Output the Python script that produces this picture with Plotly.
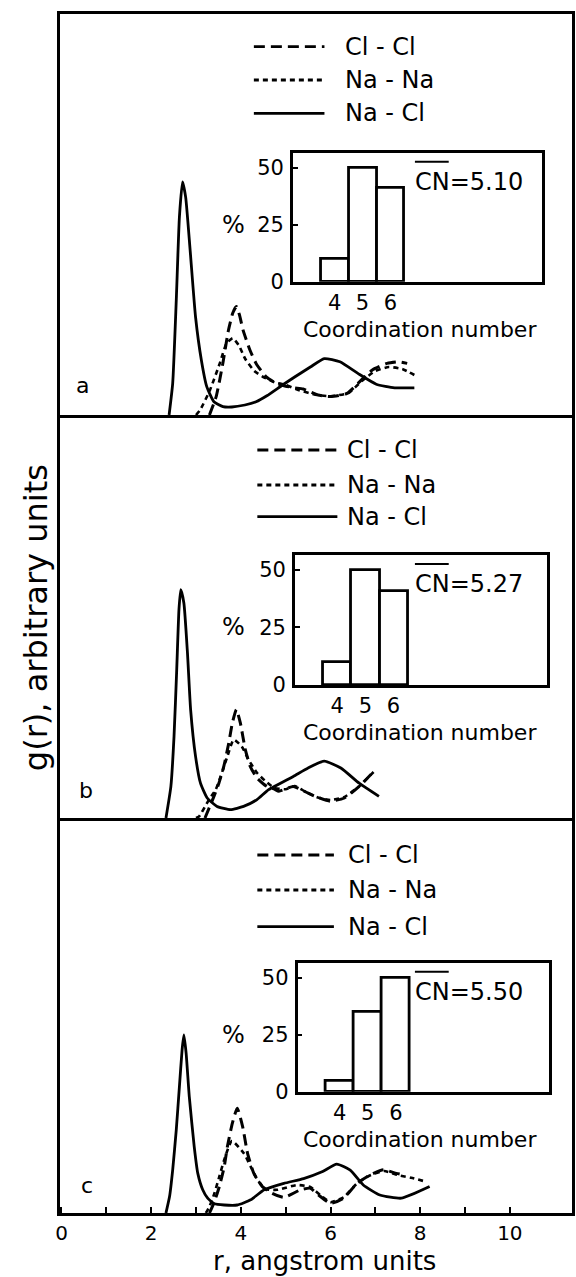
import plotly.graph_objects as go

# ---------------- data ----------------
# panel a
r_a_nacl = [2.40, 2.48, 2.56, 2.63, 2.70, 2.77, 2.87, 2.99, 3.12, 3.24, 3.40, 3.60, 3.80, 4.09, 4.34, 4.58, 4.93, 5.20, 5.55, 5.86, 6.21, 6.61, 7.02, 7.43, 7.87]
g_a_nacl = [0.00, 0.79, 2.87, 4.95, 5.83, 5.44, 4.11, 2.45, 1.37, 0.71, 0.33, 0.21, 0.20, 0.25, 0.33, 0.48, 0.75, 0.95, 1.20, 1.41, 1.33, 1.04, 0.77, 0.68, 0.68]
r_a_clcl = [3.30, 3.45, 3.60, 3.72, 3.82, 3.90, 3.97, 4.05, 4.20, 4.34, 4.56, 4.79, 5.00, 5.20, 5.39, 5.72, 6.00, 6.37, 6.69, 6.94, 7.26, 7.51, 7.71]
g_a_clcl = [0.00, 0.46, 1.30, 2.10, 2.55, 2.71, 2.50, 2.12, 1.63, 1.29, 0.96, 0.79, 0.72, 0.68, 0.65, 0.50, 0.46, 0.54, 0.88, 1.13, 1.29, 1.33, 1.29]
r_a_nana = [3.00, 3.09, 3.31, 3.53, 3.68, 3.82, 3.95, 4.10, 4.30, 4.50, 4.75, 5.00, 5.30, 5.70, 6.00, 6.40, 6.70, 7.00, 7.30, 7.60, 7.87]
g_a_nana = [0.00, 0.12, 0.62, 1.29, 1.79, 1.92, 1.75, 1.40, 1.10, 0.95, 0.82, 0.75, 0.62, 0.50, 0.47, 0.55, 0.85, 1.10, 1.20, 1.15, 1.00]

# panel b
r_b_nacl = [2.33, 2.44, 2.51, 2.57, 2.62, 2.66, 2.73, 2.81, 2.88, 2.99, 3.10, 3.25, 3.47, 3.77, 4.06, 4.36, 4.62, 5.17, 5.50, 5.86, 6.23, 6.64, 7.08]
g_b_nacl = [0.00, 0.79, 2.04, 3.71, 5.21, 5.71, 5.37, 4.12, 2.71, 1.54, 0.87, 0.50, 0.29, 0.21, 0.29, 0.46, 0.71, 1.04, 1.25, 1.42, 1.25, 0.87, 0.54]
r_b_clcl = [3.20, 3.40, 3.51, 3.62, 3.73, 3.81, 3.90, 3.99, 4.10, 4.21, 4.36, 4.58, 4.75, 4.85, 5.17, 5.45, 5.66, 5.99, 6.31, 6.64, 6.96]
g_b_clcl = [0.00, 0.54, 0.87, 1.29, 1.87, 2.37, 2.71, 2.37, 1.71, 1.29, 1.00, 0.79, 0.72, 0.67, 0.79, 0.65, 0.54, 0.42, 0.50, 0.79, 1.16]
r_b_nana = [3.00, 3.07, 3.29, 3.44, 3.55, 3.70, 3.84, 4.02, 4.17, 4.36, 4.55, 4.75, 5.00, 5.20, 5.45, 5.70, 6.00, 6.30, 6.65, 6.96]
g_b_nana = [0.00, 0.04, 0.46, 0.71, 1.04, 1.54, 1.96, 1.79, 1.46, 1.13, 0.92, 0.75, 0.72, 0.80, 0.65, 0.52, 0.45, 0.52, 0.80, 1.15]

# panel c
r_c_nacl = [2.33, 2.41, 2.48, 2.56, 2.63, 2.69, 2.73, 2.78, 2.85, 2.96, 3.04, 3.15, 3.26, 3.41, 3.63, 3.92, 4.22, 4.52, 4.96, 5.40, 5.81, 6.14, 6.44, 6.73, 7.10, 7.58, 8.21]
g_c_nacl = [0.00, 0.41, 1.08, 2.08, 3.16, 4.08, 4.45, 3.99, 2.91, 1.66, 0.99, 0.58, 0.37, 0.23, 0.20, 0.20, 0.33, 0.58, 0.74, 0.86, 1.03, 1.22, 1.07, 0.70, 0.45, 0.37, 0.66]
r_c_clcl = [3.30, 3.41, 3.52, 3.63, 3.70, 3.81, 3.92, 4.04, 4.15, 4.29, 4.48, 4.70, 4.96, 5.33, 5.55, 5.73, 6.00, 6.29, 6.59, 6.88, 7.18, 7.47, 7.65]
g_c_clcl = [0.00, 0.28, 0.66, 1.16, 1.66, 2.24, 2.62, 2.16, 1.49, 0.99, 0.66, 0.49, 0.39, 0.58, 0.62, 0.45, 0.24, 0.37, 0.74, 0.95, 1.08, 0.99, 0.95]
r_c_nana = [3.22, 3.30, 3.41, 3.52, 3.63, 3.80, 4.07, 4.22, 4.37, 4.55, 4.81, 5.25, 5.55, 5.80, 6.00, 6.30, 6.60, 6.90, 7.20, 7.50, 7.80, 8.14]
g_c_nana = [0.00, 0.16, 0.49, 0.91, 1.33, 1.80, 1.49, 1.16, 0.83, 0.60, 0.58, 0.70, 0.65, 0.42, 0.27, 0.40, 0.75, 0.95, 1.05, 0.95, 0.88, 0.78]

# insets: coordination number histograms
cn_numbers = [4, 5, 6]
pct_a = [10, 50, 41]
pct_b = [10, 50, 41]
pct_c = [5, 35, 50]
cn_mean = ["5.10", "5.27", "5.50"]
panel_letters = ["a", "b", "c"]
series_names = ["Cl - Cl", "Na - Na", "Na - Cl"]
x_ticks = list(range(0, 11))
x_ticklabels = [str(v) if v % 2 == 0 else "" for v in x_ticks]
inset_yticks = [0, 25, 50]

# ---------------- layout geometry ----------------
W, H = 576, 1277
ML, MR, MT, MB = 60, 1, 14, 64
PW = W - ML - MR
PH = H - MT - MB
BOT = H - MB
PXU = 45.1      # px per angstrom
X0 = 61.5       # px of r = 0
PYU = 40.0      # px per g unit

def py2paper(py):
    return (BOT - py) / PH

def px2paper(px):
    return (px - ML) / PW

def px2r(px):
    return (px - X0) / PXU

panel_top = [14, 415, 818]
panel_bot = [415, 818, BOT]
inset_box = [(294.3, 545.0, 152.7, 281.7), (296.3, 550.0, 555.0, 685.0), (298.9, 551.9, 962.7, 1091.7)]
legend_px = [((255, 326, 345), (46.7, 80.0, 113.3)),
             ((258.5, 339, 346.5), (450.0, 485.0, 516.7)),
             ((258.5, 335.5, 348), (855.0, 890.0, 926.7))]
label_px = [(82.5, 385), (86, 790), (87, 1185)]

FONT = "DejaVu Sans"
BLACK = "black"
LW = 2.5

curves = [
    [(r_a_clcl, g_a_clcl), (r_a_nana, g_a_nana), (r_a_nacl, g_a_nacl)],
    [(r_b_clcl, g_b_clcl), (r_b_nana, g_b_nana), (r_b_nacl, g_b_nacl)],
    [(r_c_clcl, g_c_clcl), (r_c_nana, g_c_nana), (r_c_nacl, g_c_nacl)],
]
pcts = [pct_a, pct_b, pct_c]
dashes = ["11px,6px", "5px,4px", "solid"]
widths = [3.0, 2.6, 2.8]

fig = go.Figure()
layout = dict(
    width=W, height=H,
    margin=dict(l=ML, r=MR, t=MT, b=MB, pad=0),
    paper_bgcolor="white", plot_bgcolor="rgba(0,0,0,0)",
    showlegend=False,
    font=dict(family=FONT, color=BLACK),
)
shapes = []
annotations = []

xr = [-(X0 - ML) / PXU, (PW - (X0 - ML)) / PXU]

for i in range(3):
    xa = "x" if i == 0 else f"x{i+1}"
    ya = "y" if i == 0 else f"y{i+1}"
    xk = "xaxis" if i == 0 else f"xaxis{i+1}"
    yk = "yaxis" if i == 0 else f"yaxis{i+1}"
    ymax = (panel_bot[i] - panel_top[i]) / PYU
    for (rr, gg), d, w, nm in zip(curves[i], dashes, widths, series_names):
        fig.add_trace(go.Scatter(x=rr, y=gg, mode="lines", name=nm, xaxis=xa, yaxis=ya,
                                 line=dict(color=BLACK, width=w, dash=d, shape="spline", smoothing=0.5)))
    xax = dict(domain=[0, 1], range=xr, anchor=ya, showline=True, mirror=(i == 0),
               linecolor=BLACK, linewidth=LW, showgrid=False, zeroline=False,
               showticklabels=False, ticks="")
    if i == 2:
        xax.update(ticks="inside", ticklen=6, tickwidth=2, tickcolor=BLACK,
                   tickmode="array", tickvals=x_ticks, ticktext=x_ticklabels,
                   showticklabels=True, tickfont=dict(size=20, family=FONT, color=BLACK),
                   ticklabelstandoff=0)
    layout[xk] = xax
    layout[yk] = dict(domain=[py2paper(panel_bot[i]), py2paper(panel_top[i])],
                      range=[0, ymax], anchor=xa, showline=True, mirror=True,
                      linecolor=BLACK, linewidth=LW, showgrid=False, zeroline=False,
                      showticklabels=False, ticks="")

    # legend
    (lx0, lx1, ltx), rows = legend_px[i]
    for j, nm in enumerate(series_names):
        gy = (panel_bot[i] - rows[j]) / PYU
        shapes.append(dict(type="line", xref=xa, yref=ya, x0=px2r(lx0), x1=px2r(lx1), y0=gy, y1=gy,
                           line=dict(color=BLACK, width=2.8, dash=dashes[j])))
        annotations.append(dict(xref=xa, yref=ya, x=px2r(ltx), y=gy, text=nm, showarrow=False,
                                xanchor="left", yanchor="middle",
                                font=dict(size=24, family=FONT, color=BLACK)))
    # panel letter
    lpx, lpy = label_px[i]
    annotations.append(dict(xref="paper", yref=ya, x=px2paper(lpx), y=(panel_bot[i] - lpy) / PYU,
                            text=panel_letters[i], showarrow=False, xanchor="center", yanchor="middle",
                            font=dict(size=22, family=FONT, color=BLACK)))

    # inset
    ix0, ix1, iy0, iy1 = inset_box[i]
    k = i + 4
    ixa, iya = f"x{k}", f"y{k}"
    fig.add_trace(go.Bar(x=cn_numbers, y=pcts[i], xaxis=ixa, yaxis=iya, width=1.0,
                         marker=dict(color="white", line=dict(color=BLACK, width=2.8))))
    layout[f"xaxis{k}"] = dict(domain=[px2paper(ix0), px2paper(ix1)], range=[2.5, 11.45], anchor=iya,
                               showline=True, mirror=True, linecolor=BLACK, linewidth=LW,
                               showgrid=False, zeroline=False, ticks="", tickmode="array",
                               tickvals=cn_numbers, ticktext=[str(v) for v in cn_numbers],
                               tickfont=dict(size=21, family=FONT, color=BLACK), ticklabelstandoff=0)
    layout[f"yaxis{k}"] = dict(domain=[py2paper(iy1), py2paper(iy0)], range=[0, 56.5], anchor=ixa,
                               showline=True, mirror=True, linecolor=BLACK, linewidth=LW,
                               showgrid=False, zeroline=False, ticks="inside", ticklen=5,
                               tickwidth=2, tickcolor=BLACK, tickmode="array", tickvals=inset_yticks,
                               tickfont=dict(size=21, family=FONT, color=BLACK), ticklabelstandoff=2)
    iw = ix1 - ix0
    ih = iy1 - iy0
    annotations.append(dict(xref=f"{ixa} domain", yref=iya, x=(235 - ix0) / iw, y=25,
                            text="%", showarrow=False, xanchor="center", yanchor="middle",
                            font=dict(size=24, family=FONT, color=BLACK)))
    annotations.append(dict(xref=f"{ixa} domain", yref=f"{iya} domain", x=(422.5 - ix0) / iw,
                            y=-48.0 / ih, text="Coordination number", showarrow=False,
                            xanchor="center", yanchor="middle",
                            font=dict(size=22, family=FONT, color=BLACK)))
    cx = (415 - ix0) / iw
    annotations.append(dict(xref=f"{ixa} domain", yref=f"{iya} domain", x=cx, y=(ih - 29.0) / ih,
                            text="CN=" + cn_mean[i], showarrow=False, xanchor="left", yanchor="middle",
                            font=dict(size=24, family=FONT, color=BLACK)))
    shapes.append(dict(type="line", xref=f"{ixa} domain", yref=f"{iya} domain",
                       x0=cx + 2.0 / iw, x1=cx + 36.0 / iw, y0=(ih - 9.0) / ih, y1=(ih - 9.0) / ih,
                       line=dict(color=BLACK, width=2)))

# axis titles
annotations.append(dict(xref="paper", yref="paper", x=px2paper(36), y=py2paper(618),
                        text="g(r), arbitrary units", textangle=-90, showarrow=False,
                        xanchor="center", yanchor="middle",
                        font=dict(size=32, family=FONT, color=BLACK)))
annotations.append(dict(xref="paper", yref="paper", x=px2paper(326), y=py2paper(1261),
                        text="r, angstrom units", showarrow=False,
                        xanchor="center", yanchor="middle",
                        font=dict(size=26, family=FONT, color=BLACK)))

layout["shapes"] = shapes
layout["annotations"] = annotations
layout["bargap"] = 0
fig.update_layout(**layout)
fig.write_html("out.html")
